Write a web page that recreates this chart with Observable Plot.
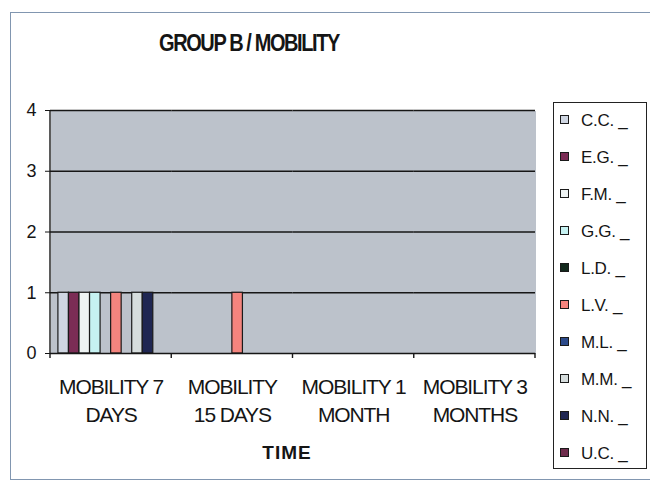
<!DOCTYPE html>
<html>
<head>
<meta charset="utf-8">
<script src="https://cdn.jsdelivr.net/npm/d3@7"></script>
<script src="https://cdn.jsdelivr.net/npm/@observablehq/plot@0.6"></script>
<style>
  html, body { margin: 0; padding: 0; background: #ffffff; }
  #wrap { position: relative; width: 650px; height: 484px; overflow: hidden; font-family: Arial, "Liberation Sans", sans-serif; color: #151515; }
  #border { position: absolute; left: 10px; top: 12px; width: 650px; height: 468px; border: 1px solid #8196b0; box-sizing: border-box; }
  #title { position: absolute; left: 0; width: 498px; top: 31px; text-align: center; font-weight: bold; font-size: 20px; line-height: 20px; letter-spacing: -1.4px; white-space: nowrap; transform: scaleY(1.18); transform-origin: 50% 0; }
  #xlabel { position: absolute; left: 237px; width: 100px; top: 443px; text-align: center; font-weight: bold; font-size: 19px; line-height: 19px; letter-spacing: 1px; }
  #legend { position: absolute; left: 553px; top: 102px; width: 94px; height: 367px; border: 1.5px solid #222; box-sizing: border-box; background: #fff; }
  .sw { position: absolute; width: 7px; height: 7px; border: 1.5px solid #1a1a1a; box-sizing: content-box; }
  .lt { position: absolute; font-size: 17px; line-height: 17px; white-space: pre; letter-spacing: -0.3px; }
  svg { position: absolute; left: 0; top: 0; }
</style>
</head>
<body>
<div id="wrap">
  <div id="border"></div>
  <div id="title"></div>
  <div id="xlabel"></div>
  <div id="legend"></div>
</div>
<script>
// ---- data ----
const titleText = "GROUP B / MOBILITY";
const axisTitle = "TIME";
const categories = ["MOBILITY 7 DAYS", "MOBILITY 15 DAYS", "MOBILITY 1 MONTH", "MOBILITY 3 MONTHS"];
const categoryLabels = ["MOBILITY 7\nDAYS", "MOBILITY\n15 DAYS", "MOBILITY 1\nMONTH", "MOBILITY 3\nMONTHS"];
const seriesNames = ["C.C.", "E.G.", "F.M.", "G.G.", "L.D.", "L.V.", "M.L.", "M.M.", "N.N.", "U.C."];
const legendLabels = ["C.C. _", "E.G. _", "F.M. _", "G.G. _", "L.D. _", "L.V. _", "M.L. _", "M.M. _", "N.N. _", "U.C. _"];
const seriesColors = ["#cfd6e2", "#7b2c55", "#eef3f3", "#c6f2f2", "#12281c", "#f4847e", "#2c4a8a", "#d6dddd", "#1f2652", "#6e2c4c"];
// values per category, in seriesNames order
const days7   = [1, 1, 1, 1, 0, 1, 0, 1, 1, 0];
const days15  = [0, 0, 0, 0, 0, 1, 0, 0, 0, 0];
const month1  = [0, 0, 0, 0, 0, 0, 0, 0, 0, 0];
const months3 = [0, 0, 0, 0, 0, 0, 0, 0, 0, 0];
const yTicks = [0, 1, 2, 3, 4];
const gridValues = [1, 2, 3, 4];

const valuesByCategory = [days7, days15, month1, months3];
const rows = [];
categories.forEach((c, ci) => {
  seriesNames.forEach((s, si) => rows.push({cat: c, series: s, value: valuesByCategory[ci][si]}));
});
const labelRows = categories.map((c, i) => ({cat: c, label: categoryLabels[i]}));

const M = {left: 50, right: 115, top: 110, bottom: 131};

const plot = Plot.plot({
  width: 650,
  height: 484,
  marginLeft: M.left,
  marginRight: M.right,
  marginTop: M.top,
  marginBottom: M.bottom,
  style: {fontFamily: "Arial, 'Liberation Sans', sans-serif", fontSize: "18px", color: "#151515", background: "transparent"},
  fx: {domain: categories, padding: 0, round: false, axis: null, label: null},
  x: {domain: seriesNames, paddingInner: 0, paddingOuter: 0.75, round: false, axis: null, label: null},
  y: {domain: [0, 4], ticks: yTicks, tickSize: 5, tickPadding: 9, tickFormat: d3.format("d"), label: null},
  color: {domain: seriesNames, range: seriesColors},
  marks: [
    Plot.frame({fill: "#bcc2cb", stroke: "none", shapeRendering: "crispEdges"}),
    Plot.ruleY(gridValues, {stroke: "#161616", strokeWidth: 1.4}),
    Plot.barY(rows.filter(d => d.value > 0), {fx: "cat", x: "series", y: "value", fill: "series", stroke: "#1a1a1a", strokeWidth: 1.2}),
    Plot.ruleY([0], {stroke: "#161616", strokeWidth: 1.4}),
    Plot.text(labelRows, {fx: "cat", text: "label", frameAnchor: "bottom", lineAnchor: "top", dy: 20, lineHeight: 1.36, fontSize: 21, fill: "#151515"})
  ]
});

// condensed category labels
d3.select(plot).selectAll('g[aria-label="text"]').attr("letter-spacing", -1.1);

// axis line and category tick marks derived from the plot's own scales
const fxS = plot.scale("fx");
const yS = plot.scale("y");
const g = d3.select(plot).append("g").attr("stroke", "#161616").attr("stroke-width", 1.4);
const x0 = fxS.apply(categories[0]);
g.append("line").attr("x1", x0).attr("x2", x0).attr("y1", yS.apply(4)).attr("y2", yS.apply(0) + 5);
categories.forEach(c => {
  const xe = fxS.apply(c) + fxS.bandwidth;
  g.append("line").attr("x1", xe).attr("x2", xe).attr("y1", yS.apply(0)).attr("y2", yS.apply(0) + 5);
});

document.getElementById("wrap").appendChild(plot);
document.getElementById("title").textContent = titleText;
document.getElementById("xlabel").textContent = axisTitle;

// legend
const leg = document.getElementById("legend");
const colorScale = plot.scale("color");
seriesNames.forEach((s, i) => {
  const cy = 17 + 37 * i; // center relative to legend box
  const sw = document.createElement("div");
  sw.className = "sw";
  sw.style.left = "6px";
  sw.style.top = (cy - 5.5) + "px";
  sw.style.background = colorScale.apply(s);
  leg.appendChild(sw);
  const t = document.createElement("div");
  t.className = "lt";
  t.style.left = "27px";
  t.style.top = (cy - 8.5) + "px";
  t.textContent = legendLabels[i];
  leg.appendChild(t);
});
</script>
</body>
</html>
